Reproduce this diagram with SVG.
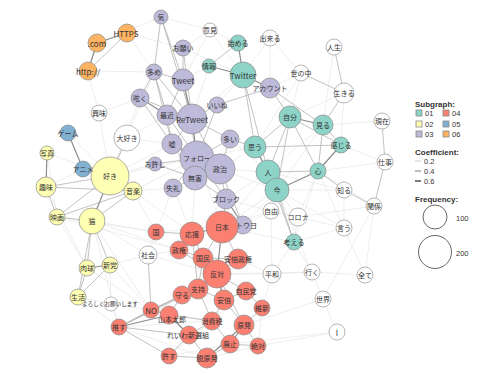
<svg xmlns="http://www.w3.org/2000/svg" width="500" height="375" viewBox="0 0 500 375">
<style>
text{font-family:"Noto Sans CJK JP","Noto Sans",sans-serif;font-size:7px;fill:#333;text-anchor:middle;dominant-baseline:central}
.lat{font-size:8px}
circle{stroke:#8a8a8a;stroke-opacity:.7;stroke-width:1}
.c1{fill:#8DD3C7}.c2{fill:#FFFFB3}.c3{fill:#BEBADA}.c4{fill:#FB8072}.c5{fill:#80B1D3}.c6{fill:#FDB462}.c0{fill:#fff;stroke:#999}
.ed{stroke:#8c8c8c;stroke-width:1.2;fill:none}
.em{stroke:#b3b3b3;stroke-width:.8;fill:none}
.el{stroke:#e2e2e2;stroke-width:.6;fill:none}
.lg{text-anchor:start;font-family:"Liberation Sans",Arial,sans-serif;font-size:7.5px;fill:#333}
.lh{font-weight:bold;font-size:8px}
.lc{fill:#fff;stroke:#666;stroke-opacity:1}
.sq{stroke:#888;stroke-width:.8}
</style>
<rect width="500" height="375" fill="#fff"/>
<g id="edges">
<path class="el" d="M99 113L110 176M99 113L140 98M127 138L110 176M127 138L172 144M127 138L167 115M88 71L99 113M88 71L154 72M97 43L161 17M127 33L183 48M127 33L154 72M210 30L183 80M210 30L243 75M210 30L238 43M270 38L243 75M270 38L270 88M270 38L301 73M301 73L290 117M301 73L270 88M301 73L255 147M334 47L323 125M344 93L290 117M344 93L341 145M382 121L323 125M385 162L341 145M385 162L318 171M344 190L268 172M344 190L277 190M374 206L318 171M374 206L298 217M344 228L344 190M344 228L318 171M344 228L277 190M344 228L298 217M298 217L277 190M298 217L294 242M298 217L271 211M271 211L226 199M271 211L268 172M271 211L222 227M271 211L272 274M272 274L217 274M272 274L238 259M272 274L312 272M312 272L365 275M312 272L323 299M312 272L277 190M312 272L217 274M323 299L337 332M323 299L374 206M323 299L244 325M365 275L374 206M365 275L344 228M337 332L230 344M337 332L258 346M294 242L222 227M294 242L312 272M294 242L272 274M294 242L344 228M148 255L156 232M148 255L179 250M148 255L92 221M148 255L217 274M156 232L92 221M156 232L222 227M156 232L133 191M111 304L119 327M111 304L78 297M111 304L110 265M111 304L151 310M78 297L119 327M110 265L151 310M110 265L148 255M87 268L151 310M92 221L119 327M133 191L197 158M133 191L173 188M110 176L155 164M110 176L172 144M110 176L197 158M83 169L110 176M83 169L46 187M68 133L110 176M47 153L110 176M47 153L57 217M57 217L179 250M57 217L156 232M92 221L179 250M173 188L192 234M173 188L156 232M226 199L192 234M268 172L222 227M277 190L222 227M255 147L197 158M255 147L220 169M268 172L220 169M243 75L192 119M243 75L217 105M209 66L183 80M209 66L192 119M323 125L268 172M323 125L277 190M318 171L294 242M318 171L298 217M207 358L258 346M169 356L230 344M262 308L258 346M262 308L272 274M226 199L268 172M243 225L271 211M243 225L277 190M243 225L203 258M220 169L277 190M230 139L268 172M197 158L222 227M195 178L192 234M119 327L212 321M151 310L212 321M151 310L198 289M169 356L212 321M119 327L207 358M133 191L192 234M92 221L151 310M57 217L87 268M46 187L87 268M140 98L110 176M161 17L210 30M183 48L210 30M183 48L243 75M154 72L110 176"/>
<path class="em" d="M127 33L88 71M161 17L154 72M161 17L192 119M161 17L183 80M183 48L183 80M183 48L192 119M154 72L140 98M154 72L167 115M154 72L192 119M154 72L172 144M140 98L192 119M140 98L172 144M167 115L172 144M167 115L197 158M192 119L172 144M192 119L220 169M192 119L217 105M192 119L230 139M183 80L167 115M183 80L197 158M183 80L154 72M217 105L197 158M230 139L197 158M230 139L220 169M172 144L195 178M155 164L197 158M155 164L195 178M173 188L195 178M173 188L197 158M220 169L226 199M195 178L226 199M197 158L226 199M243 225L222 227M243 225L220 169M217 105L270 88M230 139L255 147M238 43L209 66M243 75L255 147M243 75L268 172M270 88L290 117M270 88L323 125M290 117L255 147M290 117L268 172M290 117L277 190M290 117L318 171M290 117L341 145M323 125L341 145M323 125L318 171M255 147L277 190M268 172L318 171M277 190L294 242M268 172L294 242M255 147L341 145M334 47L344 93M344 93L323 125M301 73L344 93M382 121L385 162M385 162L374 206M344 190L374 206M318 171L344 190M46 187L133 191M46 187L57 217M46 187L110 176M57 217L133 191M57 217L92 221M92 221L133 191M92 221L87 268M92 221L110 265M87 268L78 297M110 265L78 297M92 221L78 297M57 217L110 176M156 232L192 234M192 234L179 250M192 234L203 258M222 227L203 258M222 227L238 259M238 259L217 274M238 259L203 258M179 250L203 258M179 250L217 274M217 274L182 295M198 289L224 300M182 295L198 289M246 291L224 300M246 291L217 274M262 308L246 291M224 300L244 325M224 300L212 321M212 321L230 344M212 321L189 335M212 321L169 315M244 325L258 346M230 344L258 346M230 344L207 358M169 356L207 358M169 315L151 310M119 327L151 310M119 327L189 335M119 327L182 295M119 327L198 289M119 327L169 356M151 310L182 295M182 295L169 315M189 335L169 356M189 335L207 358M198 289L212 321M217 274L244 325M222 227L226 199M203 258L198 289M192 234L198 289M262 308L244 325M148 255L151 310M127 138L110 176"/>
<path class="ed" d="M127 33L97 43M97 43L88 71M68 133L83 169M87 268L110 265M238 43L243 75M209 66L243 75M243 75L270 88M290 117L323 125M255 147L268 172M268 172L277 190M192 119L197 158M197 158L220 169M197 158L195 178M220 169L195 178M167 115L192 119M140 98L167 115M183 80L192 119M172 144L197 158M226 199L243 225M110 176L133 191M110 176L92 221M46 187L47 153M222 227L192 234M222 227L217 274M203 258L217 274M217 274L224 300M198 289L217 274M244 325L207 358M244 325L230 344M169 315L189 335M119 327L169 315M341 145L318 171M277 190L318 171"/>
</g>
<g id="nodes">
<g id="n-https"><circle class="c6" cx="127" cy="33" r="9"/><text class="lat" x="126" y="33">HTTPS</text></g>
<g id="n-com"><circle class="c6" cx="97" cy="43" r="9"/><text class="lat" x="97" y="43">.com</text></g>
<g id="n-http"><circle class="c6" cx="88" cy="71" r="9"/><text class="lat" x="88" y="71">http://</text></g>
<g id="n-ki"><circle class="c3" cx="161" cy="17" r="7"/><text x="161" y="17">気</text></g>
<g id="n-onegai"><circle class="c3" cx="183" cy="48" r="8"/><text x="183" y="48">お願い</text></g>
<g id="n-oome"><circle class="c3" cx="154" cy="72" r="8"/><text x="154" y="72">多め</text></g>
<g id="n-tweet"><circle class="c3" cx="183" cy="80" r="11"/><text class="lat" x="183" y="80">Tweet</text></g>
<g id="n-tsubuyaku"><circle class="c3" cx="140" cy="98" r="9"/><text x="140" y="98">呟く</text></g>
<g id="n-saikin"><circle class="c3" cx="167" cy="115" r="10"/><text x="167" y="115">最近</text></g>
<g id="n-retweet"><circle class="c3" cx="192" cy="119" r="15"/><text class="lat" x="192" y="119">ReTweet</text></g>
<g id="n-iine"><circle class="c3" cx="217" cy="105" r="8"/><text x="217" y="105">いいね</text></g>
<g id="n-uso"><circle class="c3" cx="172" cy="144" r="10"/><text x="172" y="144">嘘</text></g>
<g id="n-ooi"><circle class="c3" cx="230" cy="139" r="9"/><text x="230" y="139">多い</text></g>
<g id="n-follow"><circle class="c3" cx="197" cy="158" r="17"/><text x="197" y="158">フォロー</text></g>
<g id="n-seiji"><circle class="c3" cx="220" cy="169" r="15"/><text x="220" y="169">政治</text></g>
<g id="n-mugai"><circle class="c3" cx="195" cy="178" r="12"/><text x="195" y="178">無害</text></g>
<g id="n-oyurushi"><circle class="c3" cx="155" cy="164" r="7"/><text x="155" y="164">お許し</text></g>
<g id="n-shitsurei"><circle class="c3" cx="173" cy="188" r="9"/><text x="173" y="188">失礼</text></g>
<g id="n-block"><circle class="c3" cx="226" cy="199" r="10"/><text x="226" y="199">ブロック</text></g>
<g id="n-netouyo"><circle class="c3" cx="243" cy="225" r="9"/><text x="243" y="225">ネトウヨ</text></g>
<g id="n-account"><circle class="c3" cx="270" cy="88" r="10"/><text x="270" y="88">アカウント</text></g>
<g id="n-hajimeru"><circle class="c1" cx="238" cy="43" r="8"/><text x="238" y="43">始める</text></g>
<g id="n-jouhou"><circle class="c1" cx="209" cy="66" r="7"/><text x="209" y="66">情報</text></g>
<g id="n-twitter"><circle class="c1" cx="243" cy="75" r="13"/><text class="lat" x="243" y="75">Twitter</text></g>
<g id="n-jibun"><circle class="c1" cx="290" cy="117" r="11"/><text x="290" y="117">自分</text></g>
<g id="n-miru"><circle class="c1" cx="323" cy="125" r="10"/><text x="323" y="125">見る</text></g>
<g id="n-omou"><circle class="c1" cx="255" cy="147" r="11"/><text x="255" y="147">思う</text></g>
<g id="n-hito"><circle class="c1" cx="268" cy="172" r="12"/><text x="268" y="172">人</text></g>
<g id="n-ima"><circle class="c1" cx="277" cy="190" r="12"/><text x="277" y="190">今</text></g>
<g id="n-kanjiru"><circle class="c1" cx="341" cy="145" r="8"/><text x="341" y="145">感じる</text></g>
<g id="n-kokoro"><circle class="c1" cx="318" cy="171" r="8"/><text x="318" y="171">心</text></g>
<g id="n-kangaeru"><circle class="c1" cx="294" cy="242" r="8"/><text x="294" y="242">考える</text></g>
<g id="n-iken"><circle class="c0" cx="210" cy="30" r="7"/><text x="210" y="30">意見</text></g>
<g id="n-dekiru"><circle class="c0" cx="270" cy="38" r="8"/><text x="270" y="38">出来る</text></g>
<g id="n-jinsei"><circle class="c0" cx="334" cy="47" r="8"/><text x="334" y="47">人生</text></g>
<g id="n-yononaka"><circle class="c0" cx="301" cy="73" r="8"/><text x="301" y="73">世の中</text></g>
<g id="n-ikiru"><circle class="c0" cx="344" cy="93" r="10"/><text x="344" y="93">生きる</text></g>
<g id="n-genzai"><circle class="c0" cx="382" cy="121" r="8"/><text x="382" y="121">現在</text></g>
<g id="n-shigoto"><circle class="c0" cx="385" cy="162" r="8"/><text x="385" y="162">仕事</text></g>
<g id="n-shiru"><circle class="c0" cx="344" cy="190" r="8"/><text x="344" y="190">知る</text></g>
<g id="n-kankei"><circle class="c0" cx="374" cy="206" r="8"/><text x="374" y="206">関係</text></g>
<g id="n-corona"><circle class="c0" cx="298" cy="217" r="9"/><text x="298" y="217">コロナ</text></g>
<g id="n-iu"><circle class="c0" cx="344" cy="228" r="8"/><text x="344" y="228">言う</text></g>
<g id="n-jiyuu"><circle class="c0" cx="271" cy="211" r="8"/><text x="271" y="211">自由</text></g>
<g id="n-kyoumi"><circle class="c0" cx="99" cy="113" r="8"/><text x="99" y="113">興味</text></g>
<g id="n-daisuki"><circle class="c0" cx="127" cy="138" r="13"/><text x="127" y="138">大好き</text></g>
<g id="n-shakai"><circle class="c0" cx="148" cy="255" r="9"/><text x="148" y="255">社会</text></g>
<g id="n-heiwa"><circle class="c0" cx="272" cy="274" r="9"/><text x="272" y="274">平和</text></g>
<g id="n-iku"><circle class="c0" cx="312" cy="272" r="8"/><text x="312" y="272">行く</text></g>
<g id="n-subete"><circle class="c0" cx="365" cy="275" r="8"/><text x="365" y="275">全て</text></g>
<g id="n-sekai"><circle class="c0" cx="323" cy="299" r="8"/><text x="323" y="299">世界</text></g>
<g id="n-i"><circle class="c0" cx="337" cy="332" r="8"/><text class="lat" x="337" y="332">I</text></g>
<g id="n-yoroshiku"><circle class="c0" cx="111" cy="304" r="7"/><text x="110" y="304" style="font-size:5.6px">よろしくお願いします</text></g>
<g id="n-shashin"><circle class="c2" cx="47" cy="153" r="7"/><text x="47" y="153">写真</text></g>
<g id="n-suki"><circle class="c2" cx="110" cy="176" r="19"/><text x="110" y="176">好き</text></g>
<g id="n-shumi"><circle class="c2" cx="46" cy="187" r="10"/><text x="46" y="187">趣味</text></g>
<g id="n-ongaku"><circle class="c2" cx="133" cy="191" r="9"/><text x="133" y="191">音楽</text></g>
<g id="n-eiga"><circle class="c2" cx="57" cy="217" r="8"/><text x="57" y="217">映画</text></g>
<g id="n-neko"><circle class="c2" cx="92" cy="221" r="13"/><text x="92" y="221">猫</text></g>
<g id="n-nikukyu"><circle class="c2" cx="87" cy="268" r="8"/><text x="87" y="268">肉球</text></g>
<g id="n-shintou"><circle class="c2" cx="110" cy="265" r="8"/><text x="110" y="265">新党</text></g>
<g id="n-seikatsu"><circle class="c2" cx="78" cy="297" r="8"/><text x="78" y="297">生活</text></g>
<g id="n-game"><circle class="c5" cx="68" cy="133" r="8"/><text x="68" y="133">ゲーム</text></g>
<g id="n-anime"><circle class="c5" cx="83" cy="169" r="8"/><text x="83" y="169">アニメ</text></g>
<g id="n-kuni"><circle class="c4" cx="156" cy="232" r="8"/><text x="156" y="232">国</text></g>
<g id="n-ouen"><circle class="c4" cx="192" cy="234" r="12"/><text x="192" y="234">応援</text></g>
<g id="n-nihon"><circle class="c4" cx="222" cy="227" r="16"/><text x="222" y="227">日本</text></g>
<g id="n-seiken"><circle class="c4" cx="179" cy="250" r="9"/><text x="179" y="250">政権</text></g>
<g id="n-kokumin"><circle class="c4" cx="203" cy="258" r="10"/><text x="203" y="258">国民</text></g>
<g id="n-abeseiken"><circle class="c4" cx="238" cy="259" r="10"/><text x="238" y="259">安倍政権</text></g>
<g id="n-hantai"><circle class="c4" cx="217" cy="274" r="14"/><text x="217" y="274">反対</text></g>
<g id="n-shiji"><circle class="c4" cx="198" cy="289" r="10"/><text x="198" y="289">支持</text></g>
<g id="n-mamoru"><circle class="c4" cx="182" cy="295" r="9"/><text x="182" y="295">守る</text></g>
<g id="n-jimintou"><circle class="c4" cx="246" cy="291" r="9"/><text x="246" y="291">自民党</text></g>
<g id="n-abe"><circle class="c4" cx="224" cy="300" r="10"/><text x="224" y="300">安倍</text></g>
<g id="n-ishin"><circle class="c4" cx="262" cy="308" r="8"/><text x="262" y="308">維新</text></g>
<g id="n-no"><circle class="c4" cx="151" cy="310" r="8"/><text class="lat" x="151" y="310">NO</text></g>
<g id="n-yamamoto"><circle class="c4" cx="169" cy="315" r="9"/><text x="172" y="319">山本太郎</text></g>
<g id="n-osu"><circle class="c4" cx="119" cy="327" r="8"/><text x="119" y="327">推す</text></g>
<g id="n-shouhizei"><circle class="c4" cx="212" cy="321" r="9"/><text x="212" y="321">消費税</text></g>
<g id="n-genpatsu"><circle class="c4" cx="244" cy="325" r="10"/><text x="244" y="325">原発</text></g>
<g id="n-reiwa"><circle class="c4" cx="189" cy="335" r="9"/><text x="188" y="335">れいわ新選組</text></g>
<g id="n-haishi"><circle class="c4" cx="230" cy="344" r="9"/><text x="230" y="344">廃止</text></g>
<g id="n-zettai"><circle class="c4" cx="258" cy="346" r="8"/><text x="258" y="346">絶対</text></g>
<g id="n-yurusu"><circle class="c4" cx="169" cy="356" r="8"/><text x="169" y="356">許す</text></g>
<g id="n-datsugenpatsu"><circle class="c4" cx="207" cy="358" r="10"/><text x="207" y="358">脱原発</text></g>
</g>
<g id="legend">
<text class="lg lh" x="415" y="104">Subgraph:</text>
<rect class="c1 sq" x="416" y="110" width="6" height="6"/><text class="lg" x="425" y="113">01</text>
<rect class="c4 sq" x="443" y="110" width="6" height="6"/><text class="lg" x="452" y="113">04</text>
<rect class="c2 sq" x="416" y="121" width="6" height="6"/><text class="lg" x="425" y="124">02</text>
<rect class="c5 sq" x="443" y="121" width="6" height="6"/><text class="lg" x="452" y="124">05</text>
<rect class="c3 sq" x="416" y="131" width="6" height="6"/><text class="lg" x="425" y="134">03</text>
<rect class="c6 sq" x="443" y="131" width="6" height="6"/><text class="lg" x="452" y="134">06</text>
<text class="lg lh" x="415" y="152">Coefficient:</text>
<line x1="415" y1="161" x2="421" y2="161" stroke="#aaa" stroke-width=".6"/><text class="lg" x="424" y="161">0.2</text>
<line x1="415" y1="171" x2="421" y2="171" stroke="#777" stroke-width="1"/><text class="lg" x="424" y="171">0.4</text>
<line x1="415" y1="181" x2="421" y2="181" stroke="#444" stroke-width="1.4"/><text class="lg" x="424" y="181">0.6</text>
<text class="lg lh" x="415" y="199">Frequency:</text>
<circle class="lc" cx="435" cy="217" r="12"/><text class="lg" x="456" y="218">100</text>
<circle class="lc" cx="435" cy="252" r="16.5"/><text class="lg" x="456" y="253">200</text>
</g>
</svg>
